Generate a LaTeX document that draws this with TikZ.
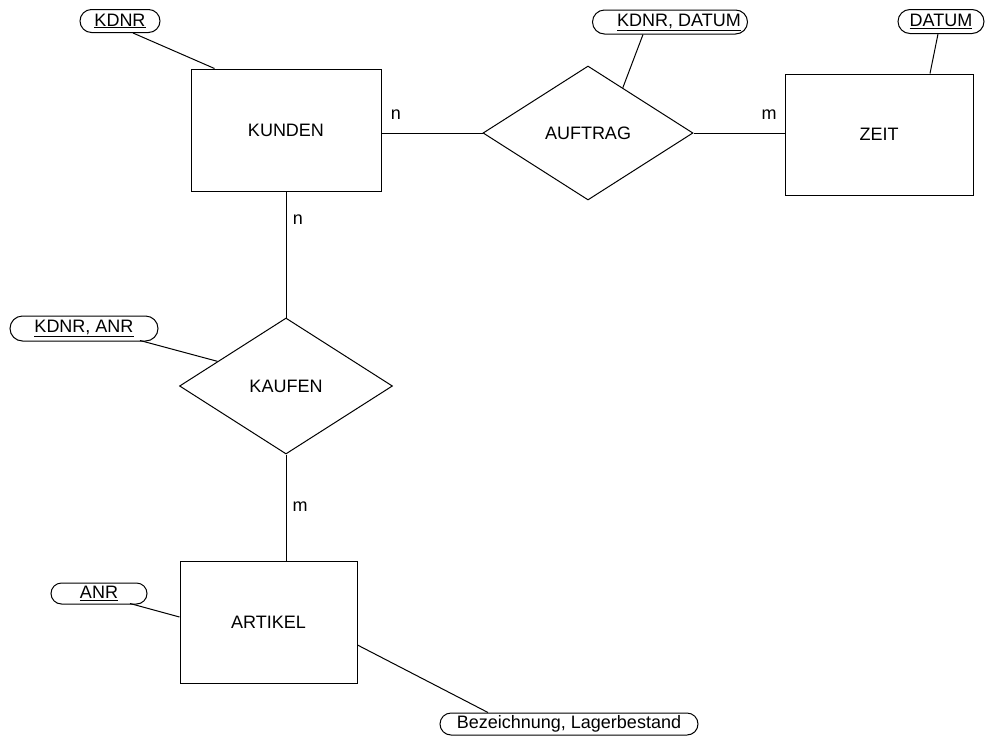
\documentclass[tikz,border=0pt]{standalone}
\usepackage{fontspec}
\setmainfont{Liberation Sans}
\usetikzlibrary{shapes.geometric,shapes.misc,calc}

\begin{document}
\begin{tikzpicture}[x=1pt,y=-1pt,
    every node/.style={font=\fontsize{18}{21}\selectfont},
    entity/.style={draw,line width=1pt,rectangle,inner sep=0pt},
    relation/.style={draw,line width=1pt,diamond,inner sep=0pt},
    attrib/.style={draw,line width=1pt,rounded rectangle,inner sep=0pt},
    card/.style={inner sep=0pt},
    link/.style={line width=1pt}]
  \useasboundingbox (0,0) rectangle (991,745);

  % entities
  \node[entity,minimum width=190pt,minimum height=122pt] (kunden) at (286,130) {KUNDEN};
  \node[entity,minimum width=188pt,minimum height=121pt] (zeit) at (879,134.5) {ZEIT};
  \node[entity,minimum width=177pt,minimum height=122pt] (artikel) at (268.5,622) {ARTIKEL};

  % relationships
  \node[relation,minimum width=210pt,minimum height=134pt] (auftrag) at (588,133) {AUFTRAG};
  \node[relation,minimum width=213pt,minimum height=136pt] (kaufen) at (286,386) {KAUFEN};

  % attributes
  \node[attrib,minimum width=80pt,minimum height=23pt] (kdnr) at (120,21) {\underline{KDNR}};
  \node[attrib,minimum width=155pt,minimum height=24pt] (kdnrdatum) at (670,22) {\hspace{18pt}\underline{KDNR, DATUM}};
  \node[attrib,minimum width=86pt,minimum height=24pt] (datum) at (941,21.5) {\underline{DATUM}};
  \node[attrib,minimum width=148pt,minimum height=25pt] (kdnranr) at (84,328.5) {\underline{KDNR, ANR}};
  \node[attrib,minimum width=96pt,minimum height=21pt] (anr) at (99,593.5) {\underline{ANR}};
  \node[attrib,minimum width=258pt,minimum height=22pt] (bez) at (569,724) {Bezeichnung, Lagerbestand};

  % cardinalities
  \node[card] (n1) at (396,115) {n};
  \node[card] (m1) at (769,115) {m};
  \node[card] (n2) at (298,220) {n};
  \node[card] (m2) at (300,507) {m};

  % relationship connectors
  \draw[link] (auftrag.west) -- (auftrag.west -| kunden.east);
  \draw[link] (auftrag.east) -- (auftrag.east -| zeit.west);
  \draw[link] (kunden.south) -- (kaufen.north);
  \draw[link] (kaufen.south) -- (kaufen.south |- artikel.north);

  % attribute connectors
  \draw[link] ([xshift=13pt]kdnr.south) -- ([xshift=24pt]kunden.north west);
  \draw[link] ([xshift=-27pt]kdnrdatum.south) -- ($(auftrag.north)!0.33!(auftrag.east)$);
  \draw[link] ([xshift=-3pt]datum.south) -- ([xshift=51pt]zeit.north);
  \draw[link] ([xshift=56pt,yshift=1pt]kdnranr.south) -- ($(kaufen.west)!0.36!(kaufen.north)$);
  \draw[link] ([xshift=31pt,yshift=1pt]anr.south) -- ([yshift=5pt]artikel.west);
  \draw[link] ([xshift=-81pt]bez.north) -- ([yshift=-23pt]artikel.east);
\end{tikzpicture}
\end{document}
